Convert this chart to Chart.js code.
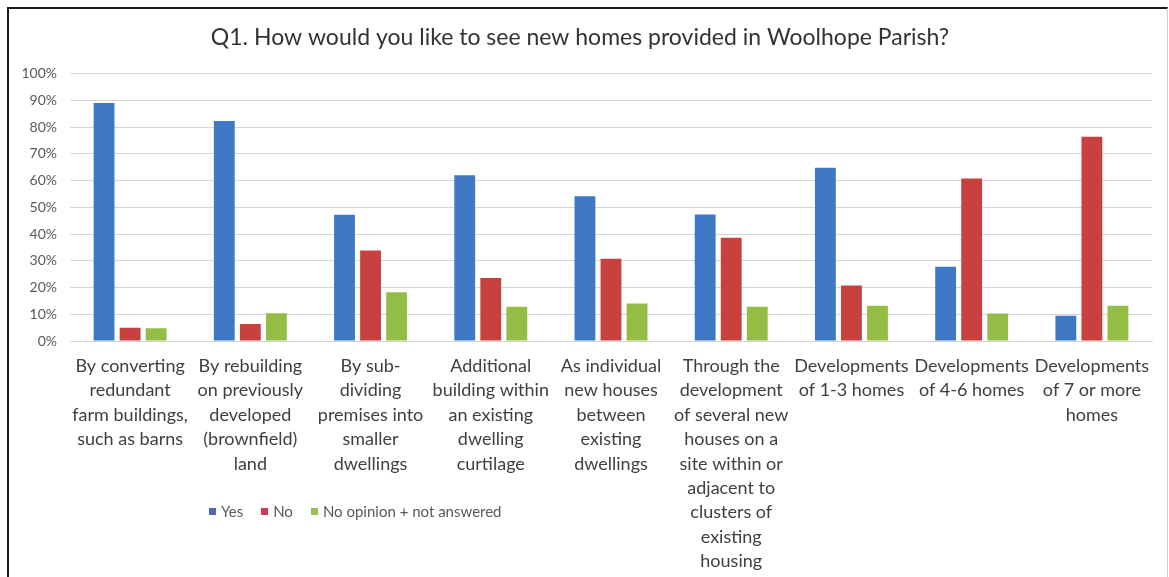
<!DOCTYPE html>
<html>
<head>
<meta charset="utf-8">
<script src="https://cdn.jsdelivr.net/npm/chart.js@4.4.1/dist/chart.umd.min.js"></script>
<style>
  html, body { margin: 0; padding: 0; background: #fff; }
  #wrap { position: relative; width: 1169px; height: 577px; overflow: hidden; }
  #frame {
    position: absolute; left: 7px; top: 7px; width: 1158px; height: 600px;
    border-left: 2px solid #1a1a1a; border-top: 2px solid #1a1a1a; border-right: 1px solid #d0d0d0;
    pointer-events: none;
  }
  #legend {
    position: absolute; left: 209px; top: 502px;
    font-family: Lato, "Open Sans", sans-serif; font-size: 15px; color: #595959;
    display: flex; align-items: center;
  }
  #legend .item { display: flex; align-items: center; margin-right: 18px; }
  #legend .sw { width: 7px; height: 7px; margin-right: 5px; }
</style>
</head>
<body>
<div id="wrap">
  <canvas id="homesChart" width="1169" height="577"></canvas>
  <div id="frame"></div>
  <div id="legend"></div>
</div>
<script>
const categories = [
  ["By converting", "redundant", "farm buildings,", "such as barns"],
  ["By rebuilding", "on previously", "developed", "(brownfield)", "land"],
  ["By sub-", "dividing", "premises into", "smaller", "dwellings"],
  ["Additional", "building within", "an existing", "dwelling", "curtilage"],
  ["As individual", "new houses", "between", "existing", "dwellings"],
  ["Through the", "development", "of several new", "houses on a", "site within or", "adjacent to", "clusters of", "existing", "housing"],
  ["Developments", "of 1-3 homes"],
  ["Developments", "of 4-6 homes"],
  ["Developments", "of 7 or more", "homes"],
];

const yesValues = [89, 82.3, 47.2, 62, 54.1, 47.3, 64.8, 27.8, 9.4];
const noValues = [5, 6.4, 33.8, 23.6, 30.8, 38.6, 20.8, 60.8, 76.4];
const noOpinionValues = [4.8, 10.4, 18.2, 12.8, 14, 12.8, 13.2, 10.3, 13.2];

const yTicks = [0, 10, 20, 30, 40, 50, 60, 70, 80, 90, 100];

const seriesNames = ["Yes", "No", "No opinion + not answered"];
const seriesColors = ["#3f78c5", "#c8413f", "#93bd45"];
const legendColors = ["#4d6ab5", "#d2385a", "#9cbd5a"];

const fontFamily = "Lato, 'Open Sans', sans-serif";

const ctx = document.getElementById("homesChart").getContext("2d");

const chart = new Chart(ctx, {
  type: "bar",
  data: {
    labels: categories,
    datasets: [yesValues, noValues, noOpinionValues].map((values, i) => ({
      label: seriesNames[i],
      data: values,
      backgroundColor: seriesColors[i],
      categoryPercentage: 0.65,
      barPercentage: 0.8,
    })),
  },
  options: {
    responsive: false,
    animation: false,
    layout: {
      padding: { left: 8, right: 17, top: 0, bottom: 0 },
    },
    scales: {
      y: {
        min: 0,
        max: 100,
        afterBuildTicks: (scale) => {
          scale.ticks = yTicks.map((v) => ({ value: v }));
        },
        afterFit: (scale) => {
          scale.width = 62;
        },
        grid: { color: "#d6d6d6", drawTicks: false },
        border: { display: false },
        ticks: {
          padding: 13,
          color: "#595959",
          font: { family: fontFamily, size: 14 },
          callback: (value) => value + "%",
        },
      },
      x: {
        afterFit: (scale) => {
          scale.height = 236;
        },
        grid: { display: false, drawTicks: false },
        border: { color: "#d6d6d6" },
        ticks: {
          autoSkip: false,
          maxRotation: 0,
          minRotation: 0,
          padding: 13,
          color: "#404040",
          font: { family: fontFamily, size: 18, lineHeight: "24.4px" },
        },
      },
    },
    plugins: {
      legend: { display: false },
      tooltip: { enabled: false },
      title: {
        display: true,
        text: "Q1. How would you like to see new homes provided in Woolhope Parish?",
        color: "#333333",
        font: { family: fontFamily, size: 23, weight: "normal" },
        padding: { top: 24, bottom: 22 },
      },
    },
  },
});

// legend drawn as html under the axis labels
function createLegend() {
  const box = document.getElementById("legend");
  box.innerHTML = "";
  seriesNames.forEach((name, i) => {
    const item = document.createElement("div");
    item.className = "item";
    item.innerHTML = `<div class="sw" style="background-color: ${legendColors[i]};"></div><span>${name}</span>`;
    box.appendChild(item);
  });
}

createLegend();
</script>
</body>
</html>
